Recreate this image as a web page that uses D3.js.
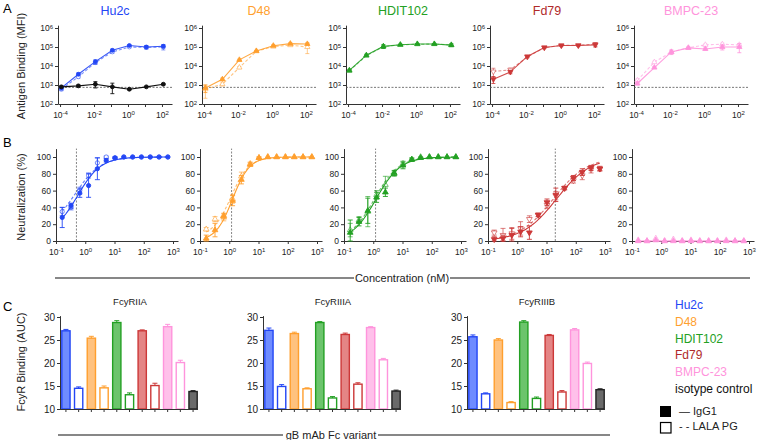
<!DOCTYPE html>
<html><head><meta charset="utf-8">
<script src="https://cdn.jsdelivr.net/npm/d3@7"></script>
<style>
body{margin:0;background:#fff}
text{font-family:"Liberation Sans",Arial,sans-serif}
</style></head><body><svg id="c" width="757" height="440"></svg>
<script>
// ---------- DATA ----------
const antibodies = ["Hu2c","D48","HDIT102","Fd79","BMPC-23"];
const colors = ["#2346f5","#ff9f2e","#23a023","#cc3838","#ff94dc"];
const titleColors = ["#2346f5","#ff9f2e","#23a023","#b02a2a","#ff94dc"];
const markerTypes = ["circle","triangle","triangle","triangleDown","triangle"];

// Panel A: antigen binding (MFI) vs concentration
const bindConc = [1.2e-4, 1.2e-3, 1.2e-2, 0.12, 1.2, 12, 120];
const bindIgG1 = [
  [700, 3700, 17000, 67000, 120000, 100000, 110000],
  [700, 2000, 21000, 62000, 117000, 150000, 145000],
  [5900, 37000, 108000, 132000, 145000, 145000, 125000],
  [2000, 4900, 32000, 95000, 120000, 120000, 130000],
  [1200, 8300, 55000, 90000, 79000, 100000, 100000]
];
const bindIgG1Err = [
  [150, 600, 4000, 10000, 12000, 20000, 20000],
  [300, 300, 2000, 5000, 15000, 20000, 20000],
  [800, 5000, 25000, 10000, 10000, 10000, 20000],
  [800, 1000, 3000, 8000, 10000, 10000, 30000],
  [200, 1000, 15000, 10000, 10000, 30000, 50000]
];
const bindLALA = [
  [600, 2700, 15000, 55000, 100000, 95000, 100000],
  [600, 1100, 8300, 60000, 105000, 125000, 100000],
  [5600, 35000, 105000, 130000, 140000, 142000, 130000],
  [5100, 6300, 30000, 92000, 122000, 125000, 140000],
  [1750, 16000, 55000, 90000, 130000, 140000, 130000]
];
const bindLALAErr = [
  [100, 400, 3000, 8000, 10000, 15000, 30000],
  [400, 200, 1000, 5000, 10000, 15000, 55000],
  [700, 4000, 20000, 10000, 10000, 10000, 20000],
  [2500, 1500, 3000, 8000, 10000, 10000, 30000],
  [300, 2000, 10000, 10000, 15000, 20000, 20000]
];
const isoBind = [800, 900, 1100, 800, 600, 800, 1100];
const isoBindErr = [100, 100, 400, 450, 50, 50, 100];
const bindCutoff = 750;
const bindXTicks = [1e-4, 1e-3, 1e-2, 1e-1, 1, 10, 100];
const bindXLabels = [1e-4, 1e-2, 1, 100];
const bindYTicks = [1e2, 1e3, 1e4, 1e5, 1e6];

// Panel B: neutralization (%)
const neutConc = [0.163, 0.326, 0.651, 1.30, 2.60, 5.21, 10.4, 20.8, 41.7, 83.3, 167, 333, 667];
const neutIgG1 = [
  [28, 42, 57, 66, 86, 96, 99, 100, 100, 100, 100, 100, 100],
  [3, 13, 30, 48, 73, 91, 99, 100, 100, 100, 100, 100, 100],
  [10, 23, 36, 52, 58, 81, 90, 97, 99, 100, 100, 100, 100],
  [2, 3, 7, 11, 10, 31, 46, 55, 63, 75, 82, 87, 86],
  [0, 0, 1, 0, 0, 0, 0, 0, 0, 0, 0, 0, 0]
];
const neutIgG1Err = [
  [12, 3, 5, 14, 13, 2, 1, 0, 0, 0, 0, 0, 0],
  [4, 8, 3, 6, 5, 2, 1, 0, 0, 0, 0, 0, 0],
  [15, 5, 15, 6, 5, 3, 4, 2, 1, 0, 0, 0, 0],
  [3, 4, 8, 6, 8, 2, 4, 8, 2, 3, 4, 3, 2],
  [0, 0, 0, 0, 0, 0, 0, 0, 0, 0, 0, 0, 0]
];
const neutLALA = [
  [35, 40, 60, 78, 93, 100, 99, 100, 100, 100, 100, 100, 100],
  [14, 26, 28, 50, 77, 92, 99, 100, 100, 100, 100, 100, 100],
  [13, 25, 35, 55, 67, 80, 92, 97, 100, 100, 100, 100, 100],
  [10, 7, 9, 15, 26, 31, 43, 54, 63, 72, 78, 85, 86],
  [1, 0, 3, 0, 2, 0, 1, 0, 0, 0, 1, 0, 0]
];
const neutLALAErr = [
  [5, 3, 4, 3, 6, 1, 1, 0, 0, 0, 0, 0, 0],
  [2, 3, 4, 5, 5, 2, 1, 0, 0, 0, 0, 0, 0],
  [8, 4, 18, 5, 10, 3, 3, 1, 0, 0, 0, 0, 0],
  [3, 8, 7, 8, 4, 2, 4, 5, 2, 3, 5, 4, 3],
  [0, 0, 0, 0, 0, 0, 0, 0, 0, 0, 0, 0, 0]
];
// fitted 4PL parameters
const fitIC50IgG1 = [0.55, 1.3, 1.25, 22, 1];
const fitIC50LALA = [0.45, 1.15, 1.1, 17, 1];
const fitHillIgG1 = [1.1, 1.5, 1.05, 0.75, 1];
const fitHillLALA = [1.0, 1.4, 1.05, 0.75, 1];
const fitBottomIgG1 = [8, 0, 0, 0, 0];
const fitBottomLALA = [12, 5, 0, 0, 0];
const fitTop = [100, 100, 100, 100, 0];
const ic50Lines = [0.5, 1.2, 1.2, 20, null];
const neutXTicks = [0.1, 1, 10, 100, 1000];
const neutYTicks = [0, 20, 40, 60, 80, 100];

// Panel C: FcγR binding (AUC)
const fcrNames = ["FcyRIIA", "FcyRIIIA", "FcyRIIIB"];
const barGroups = ["Hu2c IgG1","Hu2c LALA PG","D48 IgG1","D48 LALA PG","HDIT102 IgG1","HDIT102 LALA PG",
  "Fd79 IgG1","Fd79 LALA PG","BMPC-23 IgG1","BMPC-23 LALA PG","isotype control"];
const barAntibody = [0,0,1,1,2,2,3,3,4,4,5];
const barIsLALA = [false,true,false,true,false,true,false,true,false,true,false];
const fcrValues = [
  [27.0, 14.5, 25.4, 14.6, 28.8, 13.1, 27.0, 15.1, 27.9, 20.1, 13.8],
  [27.1, 14.9, 26.4, 14.4, 28.8, 12.4, 26.2, 15.4, 27.7, 20.7, 13.9],
  [25.7, 13.3, 25.0, 11.4, 28.9, 12.3, 26.0, 13.7, 27.2, 19.9, 14.2]
];
const fcrErr = [
  [0.3, 0.3, 0.4, 0.4, 0.4, 0.4, 0.2, 0.5, 0.5, 0.5, 0.2],
  [0.5, 0.4, 0.3, 0.2, 0.2, 0.3, 0.3, 0.3, 0.2, 0.3, 0.2],
  [0.4, 0.2, 0.3, 0.2, 0.3, 0.3, 0.2, 0.3, 0.3, 0.3, 0.2]
];
const fcrYTicks = [10, 15, 20, 25, 30];
const barFill = ["#6f8cff","#ffc27f","#6cc46c","#e48585","#ffc0ea","#6a6a6a"];
const barStroke = ["#2346f5","#ff9f2e","#23a023","#cc3838","#ff94dc","#222222"];
const legendNames = ["Hu2c","D48","HDIT102","Fd79","BMPC-23","isotype control"];
const legendColors = ["#2346f5","#ff9f2e","#23a023","#b02a2a","#ff94dc","#111111"];

// ---------- DRAW ----------
const svg = d3.select("#c");
const AX = "#333";

function styleAxis(g) {
  g.selectAll("path,line").attr("stroke", AX).attr("stroke-width", 1);
  g.selectAll("text").attr("fill", "#222").attr("font-size", "8.5px")
    .attr("font-family", "Liberation Sans, Arial, sans-serif");
}
function powLabels(g, labelSet) {
  g.selectAll(".tick text").each(function(d) {
    const t = d3.select(this);
    t.text(null);
    if (labelSet && !labelSet.some(v => Math.abs(v - d) / v < 1e-6)) return;
    const e = Math.round(Math.log10(d));
    t.append("tspan").text("10");
    t.append("tspan").attr("dy", "-0.45em").attr("font-size", "6px").text(e < 0 ? "-" + (-e) : String(e));
  });
}
function marker(g, type, x, y, fill, stroke, size, op) {
  const tp = type === "circle" ? d3.symbolCircle : type === "square" ? d3.symbolSquare : d3.symbolTriangle;
  const rot = type === "triangleDown" ? 180 : 0;
  g.append("path").attr("d", d3.symbol().type(tp).size(size)())
    .attr("transform", `translate(${x},${y}) rotate(${rot})`)
    .attr("fill", fill).attr("stroke", stroke).attr("stroke-width", 0.9)
    .attr("stroke-opacity", op == null ? 1 : op);
}
function errBar(g, x, y1, y2, color, cap, op) {
  g.append("line").attr("x1", x).attr("x2", x).attr("y1", y1).attr("y2", y2)
    .attr("stroke", color).attr("stroke-width", 0.9).attr("opacity", op);
  [y1, y2].forEach(yy => g.append("line").attr("x1", x - cap).attr("x2", x + cap)
    .attr("y1", yy).attr("y2", yy).attr("stroke", color).attr("stroke-width", 0.9).attr("opacity", op));
}

// panel letters & y titles
svg.append("text").attr("x", 3).attr("y", 13).attr("font-size", "13px").text("A");
svg.append("text").attr("x", 3).attr("y", 147).attr("font-size", "13px").text("B");
svg.append("text").attr("x", 3).attr("y", 311).attr("font-size", "13px").text("C");
[["Antigen Binding (MFI)", 66], ["Neutralization (%)", 197], ["FcyR Binding (AUC)", 362]].forEach(([t, cy]) => {
  svg.append("text").attr("transform", `translate(25,${cy}) rotate(-90)`)
    .attr("text-anchor", "middle").attr("font-size", "11px").attr("fill", "#222").text(t);
});

// ---- Panel A ----
antibodies.forEach((ab, i) => {
  const x0 = 58 + 144 * i;
  const g = svg.append("g");
  const x = d3.scaleLog().domain([Math.pow(10, -4.12), Math.pow(10, 2.59)]).range([x0, x0 + 114]);
  const y = d3.scaleLog().domain([100, Math.pow(10, 6.15)]).range([104, 104 - 4.15 * 19]);
  g.append("text").attr("x", x0 + 57).attr("y", 15).attr("text-anchor", "middle")
    .attr("font-size", "12.5px").attr("fill", titleColors[i]).text(ab);
  const gx = g.append("g").attr("transform", "translate(0,104)")
    .call(d3.axisBottom(x).tickValues(bindXTicks).tickSize(3).tickPadding(2).tickSizeOuter(0));
  styleAxis(gx); powLabels(gx, bindXLabels);
  gx.selectAll(".tick text").attr("dy", "1.0em");
  const gy = g.append("g").attr("transform", `translate(${x0},0)`)
    .call(d3.axisLeft(y).tickValues(bindYTicks).tickSize(3).tickPadding(2).tickSizeOuter(0));
  styleAxis(gy); powLabels(gy, null);
  g.append("line").attr("x1", x0).attr("x2", x0 + 114).attr("y1", y(bindCutoff)).attr("y2", y(bindCutoff))
    .attr("stroke", "#555").attr("stroke-width", 0.8).attr("stroke-dasharray", "2,1.5");
  const line = d3.line().x((d, k) => x(bindConc[k])).y(d => y(d));
  const series = [
    {v: bindLALA[i], e: bindLALAErr[i], dash: "3,2", op: 0.6, open: true},
    {v: bindIgG1[i], e: bindIgG1Err[i], dash: null, op: 0.9, open: false}
  ];
  if (i === 0) series.push({v: isoBind, e: isoBindErr, dash: null, op: 1, open: false, color: "#111", type: "circle"});
  series.forEach(s => {
    const c = s.color || colors[i];
    g.append("path").attr("d", line(s.v)).attr("fill", "none").attr("stroke", c)
      .attr("stroke-width", 1.1).attr("opacity", s.op).attr("stroke-dasharray", s.dash);
    s.v.forEach((v, k) => {
      errBar(g, x(bindConc[k]), y(v + s.e[k]), y(Math.max(v - s.e[k], 110)), c, 2, s.op);
    });
    s.v.forEach((v, k) => {
      marker(g, s.type || markerTypes[i], x(bindConc[k]), y(v), s.open ? "#fff" : c, c, 12, s.op);
    });
  });
});

// ---- Panel B ----
antibodies.forEach((ab, i) => {
  const x0 = 56 + 144 * i;
  const g = svg.append("g");
  const x = d3.scaleLog().domain([0.1, Math.pow(10, 3 + 5 / 29.25)]).range([x0, x0 + 122]);
  const y = d3.scaleLinear().domain([0, 110]).range([241, 241 - 110 * 0.84]);
  if (ic50Lines[i] !== null) {
    g.append("line").attr("x1", x(ic50Lines[i])).attr("x2", x(ic50Lines[i]))
      .attr("y1", y(0)).attr("y2", y(110)).attr("stroke", "#777").attr("stroke-width", 0.9)
      .attr("stroke-dasharray", "2,1.5");
  }
  const gx = g.append("g").attr("transform", "translate(0,241)")
    .call(d3.axisBottom(x).tickValues(neutXTicks).tickSize(3).tickPadding(2).tickSizeOuter(0));
  styleAxis(gx); powLabels(gx, null);
  gx.selectAll(".tick text").attr("dy", "1.0em");
  const gy = g.append("g").attr("transform", `translate(${x0},0)`)
    .call(d3.axisLeft(y).tickValues(neutYTicks).tickSize(3).tickPadding(2).tickSizeOuter(0));
  styleAxis(gy);
  const curveX = d3.range(0, 61).map(k => Math.pow(10, Math.log10(neutConc[0]) + k * (Math.log10(neutConc[12]) - Math.log10(neutConc[0])) / 60));
  const fits = [
    {ic: fitIC50LALA[i], h: fitHillLALA[i], b: fitBottomLALA[i], dash: "3,2", op: 0.7, v: neutLALA[i], e: neutLALAErr[i], open: true},
    {ic: fitIC50IgG1[i], h: fitHillIgG1[i], b: fitBottomIgG1[i], dash: null, op: 1, v: neutIgG1[i], e: neutIgG1Err[i], open: false}
  ];
  fits.forEach(f => {
    const c = colors[i];
    const ln = d3.line().x(d => x(d)).y(d => y(f.b + (fitTop[i] - f.b) / (1 + Math.pow(f.ic / d, f.h))));
    g.append("path").attr("d", ln(curveX)).attr("fill", "none").attr("stroke", c)
      .attr("stroke-width", 1.1).attr("opacity", f.op).attr("stroke-dasharray", f.dash);
    f.v.forEach((v, k) => {
      if (f.e[k] > 0) errBar(g, x(neutConc[k]), y(v + f.e[k]), y(Math.max(v - f.e[k], 0)), c, 2.5, f.op);
    });
    f.v.forEach((v, k) => {
      marker(g, markerTypes[i], x(neutConc[k]), y(v), f.open ? "#fff" : c, c, 14, f.op);
    });
  });
});

// Concentration axis title
svg.append("line").attr("x1", 55).attr("x2", 354).attr("y1", 278).attr("y2", 278).attr("stroke", "#111").attr("stroke-width", 1.2);
svg.append("line").attr("x1", 450).attr("x2", 750).attr("y1", 278).attr("y2", 278).attr("stroke", "#111").attr("stroke-width", 1.2);
svg.append("text").attr("x", 402).attr("y", 282).attr("text-anchor", "middle").attr("font-size", "11px").attr("fill", "#222").text("Concentration (nM)");

// ---- Panel C ----
fcrNames.forEach((nm, p) => {
  const x0 = [60, 263, 467][p];
  const g = svg.append("g");
  const x = d3.scaleBand().domain(barGroups).range([x0 + 1.8, x0 + 137.2]).paddingInner(0.35).paddingOuter(0);
  const y = d3.scaleLinear().domain([10, 30.3]).range([409, 409 - 20.3 * 4.6]);
  g.append("text").attr("x", x0 + 70).attr("y", 305).attr("text-anchor", "middle")
    .attr("font-size", "9.5px").attr("fill", "#222").text(nm);
  fcrValues[p].forEach((v, k) => {
    const a = barAntibody[k];
    const bx = x(barGroups[k]);
    g.append("rect").attr("x", bx).attr("y", y(v)).attr("width", x.bandwidth()).attr("height", y(10) - y(v))
      .attr("fill", barIsLALA[k] ? "#fff" : barFill[a]).attr("stroke", barStroke[a]).attr("stroke-width", 1.4);
    const cx = bx + x.bandwidth() / 2;
    g.append("line").attr("x1", cx).attr("x2", cx).attr("y1", y(v)).attr("y2", y(v + fcrErr[p][k]))
      .attr("stroke", barStroke[a]).attr("stroke-width", 1);
    g.append("line").attr("x1", cx - 2.5).attr("x2", cx + 2.5).attr("y1", y(v + fcrErr[p][k])).attr("y2", y(v + fcrErr[p][k]))
      .attr("stroke", barStroke[a]).attr("stroke-width", 1);
  });
  const gx = g.append("g").attr("transform", "translate(0,409)")
    .call(d3.axisBottom(x).tickSize(3).tickFormat("").tickSizeOuter(0));
  styleAxis(gx);
  gx.select(".domain").attr("d", `M${x0},0.5H${x0 + 138}`);
  const gy = g.append("g").attr("transform", `translate(${x0},0)`)
    .call(d3.axisLeft(y).tickValues(fcrYTicks).tickSize(3).tickPadding(2).tickSizeOuter(0));
  styleAxis(gy);
  gy.selectAll("text").attr("font-size", "10px");
});

// gB mAb Fc variant title
svg.append("line").attr("x1", 58).attr("x2", 283).attr("y1", 435).attr("y2", 435).attr("stroke", "#111").attr("stroke-width", 1.2);
svg.append("line").attr("x1", 378).attr("x2", 610).attr("y1", 435).attr("y2", 435).attr("stroke", "#111").attr("stroke-width", 1.2);
svg.append("text").attr("x", 331).attr("y", 439).attr("text-anchor", "middle").attr("font-size", "11px").attr("fill", "#222").text("gB mAb Fc variant");

// Legend
legendNames.forEach((n, k) => {
  svg.append("text").attr("x", 675).attr("y", 309 + k * 16.8).attr("font-size", "12px")
    .attr("fill", legendColors[k]).text(n);
});
svg.append("rect").attr("x", 660).attr("y", 406).attr("width", 11).attr("height", 11).attr("fill", "#000");
svg.append("rect").attr("x", 660.5).attr("y", 422.5).attr("width", 10.5).attr("height", 10.5).attr("fill", "#fff").attr("stroke", "#000").attr("stroke-width", 1.2);
svg.append("text").attr("x", 679).attr("y", 415).attr("font-size", "11px").attr("fill", "#222").text("— IgG1");
svg.append("text").attr("x", 679).attr("y", 430).attr("font-size", "11px").attr("fill", "#222").text("- - LALA PG");
</script></body></html>
